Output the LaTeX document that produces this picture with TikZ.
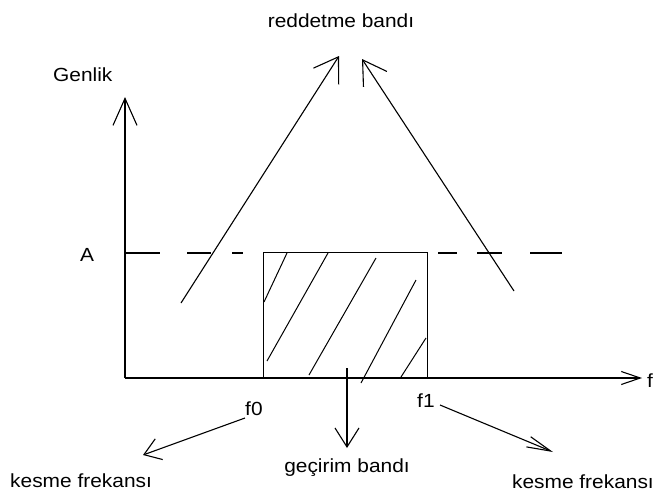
\documentclass[tikz,border=0pt]{standalone}
\usepackage{fontspec}
\setmainfont{Liberation Sans}[FakeStretch=1.1]
\usetikzlibrary{arrows.meta}
\tikzset{
  ln/.style={line width=1.1pt, black},
  barb/.style 2 args={ln, -{Straight Barb[length=#1, width=#2]}},
  lbl/.style={font=\fontsize{19}{22}\selectfont, inner sep=0pt, text=black},
  hatch/.style={line width=1pt, black},
}
\begin{document}
\begin{tikzpicture}[x=1pt, y=-1pt]
\useasboundingbox (0,0) rectangle (657,493);

% text labels
\node[lbl, anchor=base] (rb) at (341,27) {reddetme bandı};
\node[lbl, anchor=base west] (genlik) at (53,81) {Genlik};
\node[lbl, anchor=base] (A) at (87,261) {A};
\node[lbl, anchor=base west] (f0) at (245,415) {f0};
\node[lbl, anchor=base west] (f1) at (417,407) {f1};
\node[lbl, anchor=base] (gb) at (347,472) {geçirim bandı};
\node[lbl, anchor=base west] (kf0) at (10,487) {kesme frekansı};
\node[lbl, anchor=base east] (kf1) at (654,488) {kesme frekansı};
\node[lbl, anchor=base west] (fx) at (647,387) {f};

% axes
\coordinate (O) at (125,378);
\coordinate (ytip) at (125,97);
\coordinate (xtip) at (642,378);
\draw[barb={27pt}{24pt}] (O) -- (ytip);
\draw[barb={19pt}{13pt}] (O) -- (xtip);

% pass band rectangle
\node[draw, ln, anchor=south west, minimum width=164pt, minimum height=125pt, inner sep=0pt] (pb) at (263,378) {};

% hatching
\draw[hatch] (287,253) -- (264,302);
\draw[hatch] (328,253) -- (267,361);
\draw[hatch] (376,258) -- (309,375);
\draw[hatch] (416,280) -- (361,383);
\draw[hatch] (426,338) -- (401,377);

% dashed level A
\draw[ln] (125,253) -- (160,253);
\draw[ln] (187,253) -- (211,253);
\draw[ln] (232,253) -- (243,253);
\draw[ln] (438,253) -- (457,253);
\draw[ln] (477,253) -- (502,253);
\draw[ln] (530,253) -- (562,253);

% reject band arrows
\coordinate (l0) at (181,303);
\coordinate (l1) at (339,56);
\coordinate (r0) at (514,291);
\coordinate (r1) at (362,59);
\draw[barb={23pt}{30pt}] (l0) -- (l1);
\draw[barb={23pt}{28pt}] (r0) -- (r1);

% pass band arrow
\coordinate (g0) at (347,368);
\coordinate (g1) at (347,448);
\draw[barb={19pt}{24pt}] (g0) -- (g1);

% cutoff arrows
\coordinate (a0) at (245,418);
\coordinate (a1) at (143,455);
\draw[barb={16pt}{22pt}] (a0) -- (a1);
\coordinate (b0) at (440,405);
\coordinate (b1) at (553,452);
\draw[barb={24pt}{11pt}] (b0) -- (b1);
\end{tikzpicture}
\end{document}
